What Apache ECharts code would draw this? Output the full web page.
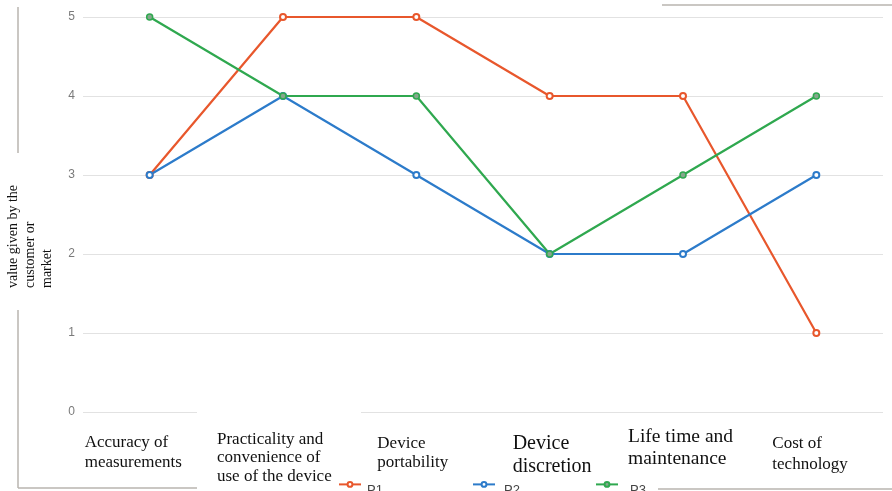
<!DOCTYPE html>
<html>
<head>
<meta charset="utf-8">
<script src="https://cdn.jsdelivr.net/npm/echarts@6/dist/echarts.min.js"></script>
<style>
  html, body { margin: 0; padding: 0; background: #fff; }
  #chart { width: 892px; height: 491px; }
</style>
</head>
<body>
<div id="chart"></div>
<script>
// Criteria rated for each prototype
const categories = [
  'Accuracy of\nmeasurements',
  'Practicality and\nconvenience of\nuse of the device',
  'Device\nportability',
  'Device\ndiscretion',
  'Life time and\nmaintenance',
  'Cost of\ntechnology'
];
const seriesNames = ['P1', 'P2', 'P3'];
const p1Values = [3, 5, 5, 4, 4, 1];
const p2Values = [3, 4, 3, 2, 2, 3];
const p3Values = [5, 4, 4, 2, 3, 4];
const yTicks = [0, 1, 2, 3, 4, 5];
const yTitle = 'value given by the\ncustomer or\nmarket';

// Look of each category caption: offset from the category centre, font size, line height, top
const captionStyles = [
  { dx: -65, size: 17, lh: 20, top: 433 },
  { dx: -66, size: 17, lh: 18.5, top: 430 },
  { dx: -39, size: 17, lh: 19, top: 434 },
  { dx: -37, size: 20, lh: 23, top: 432 },
  { dx: -55, size: 19.5, lh: 22, top: 426 },
  { dx: -44, size: 17, lh: 21, top: 433 }
];

const colors = ['#e8572c', '#2c7bca', '#2fa84f'];
const serif = "'Liberation Serif', 'Times New Roman', serif";
const sans = "'Liberation Sans', Arial, sans-serif";

const chart = echarts.init(document.getElementById('chart'), null, { renderer: 'canvas' });

function lineSeries(name, data, color, inner) {
  return {
    name: name,
    type: 'line',
    data: data,
    symbol: inner ? 'circle' : 'emptyCircle',
    symbolSize: 6,
    lineStyle: { color: color, width: 2.2 },
    itemStyle: inner
      ? { color: inner, borderColor: color, borderWidth: 1.5 }
      : { color: color, borderColor: color, borderWidth: 1.5 },
    emphasis: { disabled: true }
  };
}

// One legend per series so each entry can sit at its own spot; the name sits a little below the icon
function legendFor(name, left, padLeft) {
  return {
    data: [name],
    left: left,
    top: 476,
    itemWidth: 22,
    itemHeight: 6,
    z: 20,
    selectedMode: false,
    formatter: '{t|{name}}',
    textStyle: {
      color: '#444', fontSize: 13, fontFamily: sans,
      rich: {
        t: {
          color: '#444', fontSize: 13, fontFamily: sans,
          lineHeight: 26, verticalAlign: 'bottom', padding: [0, 0, 0, padLeft]
        }
      }
    }
  };
}

const option = {
  animation: false,
  backgroundColor: '#fff',
  color: colors,
  grid: { left: 83, right: 9, top: 17, bottom: 79 },
  legend: [
    legendFor(seriesNames[0], 333, 1),
    legendFor(seriesNames[1], 467, 4),
    legendFor(seriesNames[2], 590, 7)
  ],
  xAxis: {
    type: 'category',
    data: categories,
    boundaryGap: true,
    axisLine: { show: false },
    axisTick: { show: false },
    axisLabel: { show: false }
  },
  yAxis: {
    type: 'value',
    min: yTicks[0],
    max: yTicks[yTicks.length - 1],
    interval: 1,
    axisLine: { show: false },
    axisTick: { show: false },
    axisLabel: { color: '#7a7a7a', fontSize: 12, fontFamily: sans, margin: 8 },
    splitLine: { lineStyle: { color: '#e2e2e2', width: 1 } }
  },
  series: [
    lineSeries(seriesNames[0], p1Values, colors[0]),
    lineSeries(seriesNames[1], p2Values, colors[1]),
    lineSeries(seriesNames[2], p3Values, colors[2], '#86a68d')
  ]
};

chart.setOption(option);

// Captions, axis title and frame drawn as graphics, positioned from the category axis
const frameColor = '#b9b4af';
const graphics = [
  { type: 'rect', z: 10, shape: { x: 197, y: 405, width: 164, height: 86 }, style: { fill: '#fff' } },
  { type: 'line', z: 10, shape: { x1: 18, y1: 7, x2: 18, y2: 153 }, style: { stroke: frameColor, lineWidth: 1.5 } },
  { type: 'line', z: 10, shape: { x1: 18, y1: 310, x2: 18, y2: 488 }, style: { stroke: frameColor, lineWidth: 1.5 } },
  { type: 'line', z: 10, shape: { x1: 18, y1: 488, x2: 197, y2: 488 }, style: { stroke: frameColor, lineWidth: 1.5 } },
  { type: 'line', z: 10, shape: { x1: 662, y1: 5, x2: 892, y2: 5 }, style: { stroke: frameColor, lineWidth: 1.5 } },
  { type: 'line', z: 10, shape: { x1: 658, y1: 489, x2: 892, y2: 489 }, style: { stroke: frameColor, lineWidth: 1.5 } },
  {
    type: 'text', z: 11, x: 4.5, y: 288, rotation: Math.PI / 2,
    style: {
      text: yTitle, x: 0, y: 0, fill: '#111', font: '14px ' + serif,
      lineHeight: 17, align: 'left', verticalAlign: 'top'
    }
  }
];
categories.forEach(function (cat, i) {
  const cx = chart.convertToPixel({ xAxisIndex: 0 }, i);
  const s = captionStyles[i];
  graphics.push({
    type: 'text', z: 11, x: cx + s.dx, y: s.top,
    style: {
      text: cat, x: 0, y: 0, fill: '#111', font: s.size + 'px ' + serif,
      lineHeight: s.lh, align: 'left', verticalAlign: 'top'
    }
  });
});
chart.setOption({ graphic: graphics });
</script>
</body>
</html>
